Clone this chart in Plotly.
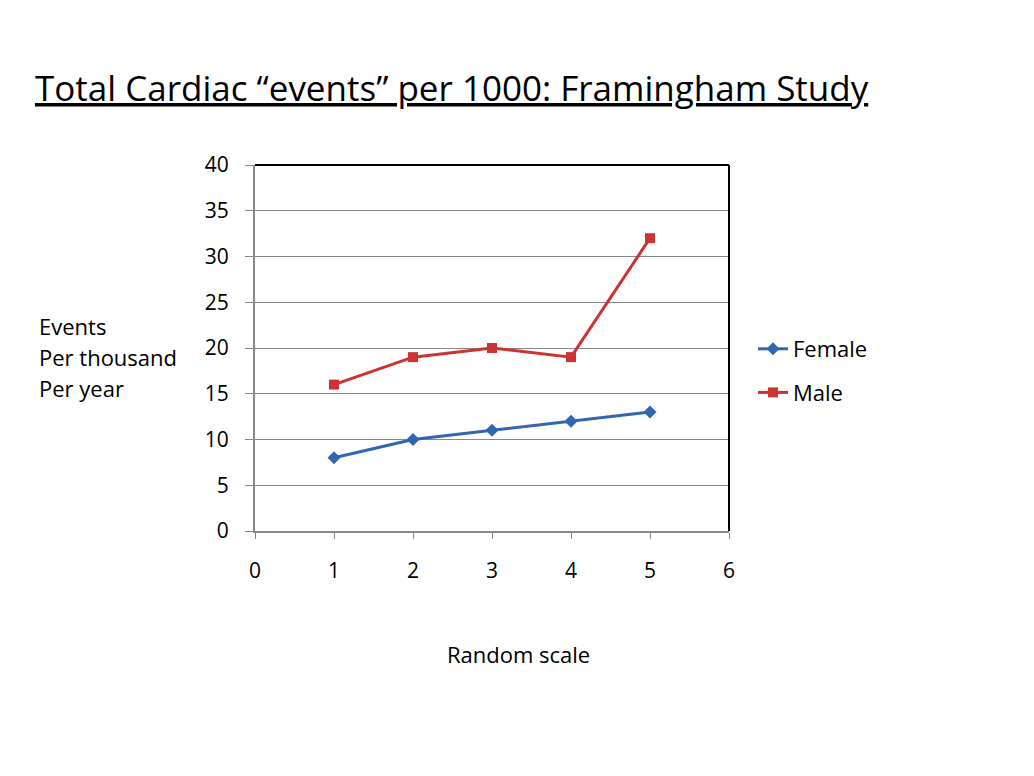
import plotly.graph_objects as go

x_vals = [1, 2, 3, 4, 5]
female = [8, 10, 11, 12, 13]
male = [16, 19, 20, 19, 32]
title_text = "Total Cardiac \u201cevents\u201d per 1000: Framingham Study"
y_label_lines = ["Events", "Per thousand", "Per year"]
x_label = "Random scale"

FONT = "Open Sans"
PW, PH = 474, 366
L, T = 247, 157
W, H = 1018, 760

def px(x):
    return (x - 255) / PW

def py(y):
    return (531 - y) / PH

fig = go.Figure()
fig.add_trace(go.Scatter(x=x_vals, y=female, name="Female", mode="lines+markers",
                         legendgroup="f",
                         line=dict(color="#3366B0", width=3),
                         marker=dict(symbol="diamond", size=10, color="#3366B0")))
fig.add_trace(go.Scatter(x=x_vals, y=male, name="Male", mode="lines+markers",
                         legendgroup="m",
                         line=dict(color="#CC3333", width=3),
                         marker=dict(symbol="square", size=10, color="#CC3333")))

annotations = [
    dict(text="<u>" + title_text + "</u>", xref="paper", yref="paper",
         x=px(33), y=py(87), xanchor="left", yanchor="middle", showarrow=False,
         font=dict(size=35, family=FONT)),
    dict(text=x_label, xref="paper", yref="paper", x=px(518), y=py(654),
         xanchor="center", yanchor="middle", showarrow=False,
         font=dict(size=22, family=FONT)),
]
for i, line in enumerate(y_label_lines):
    annotations.append(dict(text=line, xref="paper", yref="paper", x=px(37), y=py(326 + 31 * i),
                            xanchor="left", yanchor="middle", showarrow=False,
                            font=dict(size=22, family=FONT)))

fig.update_layout(
    width=W, height=H,
    margin=dict(l=L, r=W - L - PW, t=T, b=H - T - PH),
    paper_bgcolor="white", plot_bgcolor="white",
    font=dict(family=FONT, color="black", size=18),
    showlegend=True,
    legend=dict(x=px(753), y=py(371), xanchor="left", yanchor="middle",
                font=dict(size=22, family=FONT), tracegroupgap=12, traceorder="grouped",
                itemwidth=30, bgcolor="rgba(0,0,0,0)"),
    xaxis=dict(range=[0, 6], dtick=1, showgrid=False, zeroline=False,
               showline=True, linecolor="#888888", linewidth=2,
               ticks="outside", ticklen=6, tickcolor="#888888", tickwidth=1,
               ticklabelstandoff=14, tickfont=dict(size=21)),
    yaxis=dict(range=[0, 40], dtick=5, showgrid=True, gridcolor="#888888", gridwidth=1,
               zeroline=False, showline=True, linecolor="#888888", linewidth=2,
               ticks="outside", ticklen=8, tickcolor="#888888", tickwidth=1,
               ticklabelstandoff=12, tickfont=dict(size=21)),
    shapes=[
        dict(type="line", xref="paper", yref="paper", x0=0, x1=1, y0=1, y1=1,
             line=dict(color="black", width=2)),
        dict(type="line", xref="paper", yref="paper", x0=1, x1=1, y0=0, y1=1,
             line=dict(color="black", width=2)),
    ],
    annotations=annotations,
)
fig.write_html("out.html")
